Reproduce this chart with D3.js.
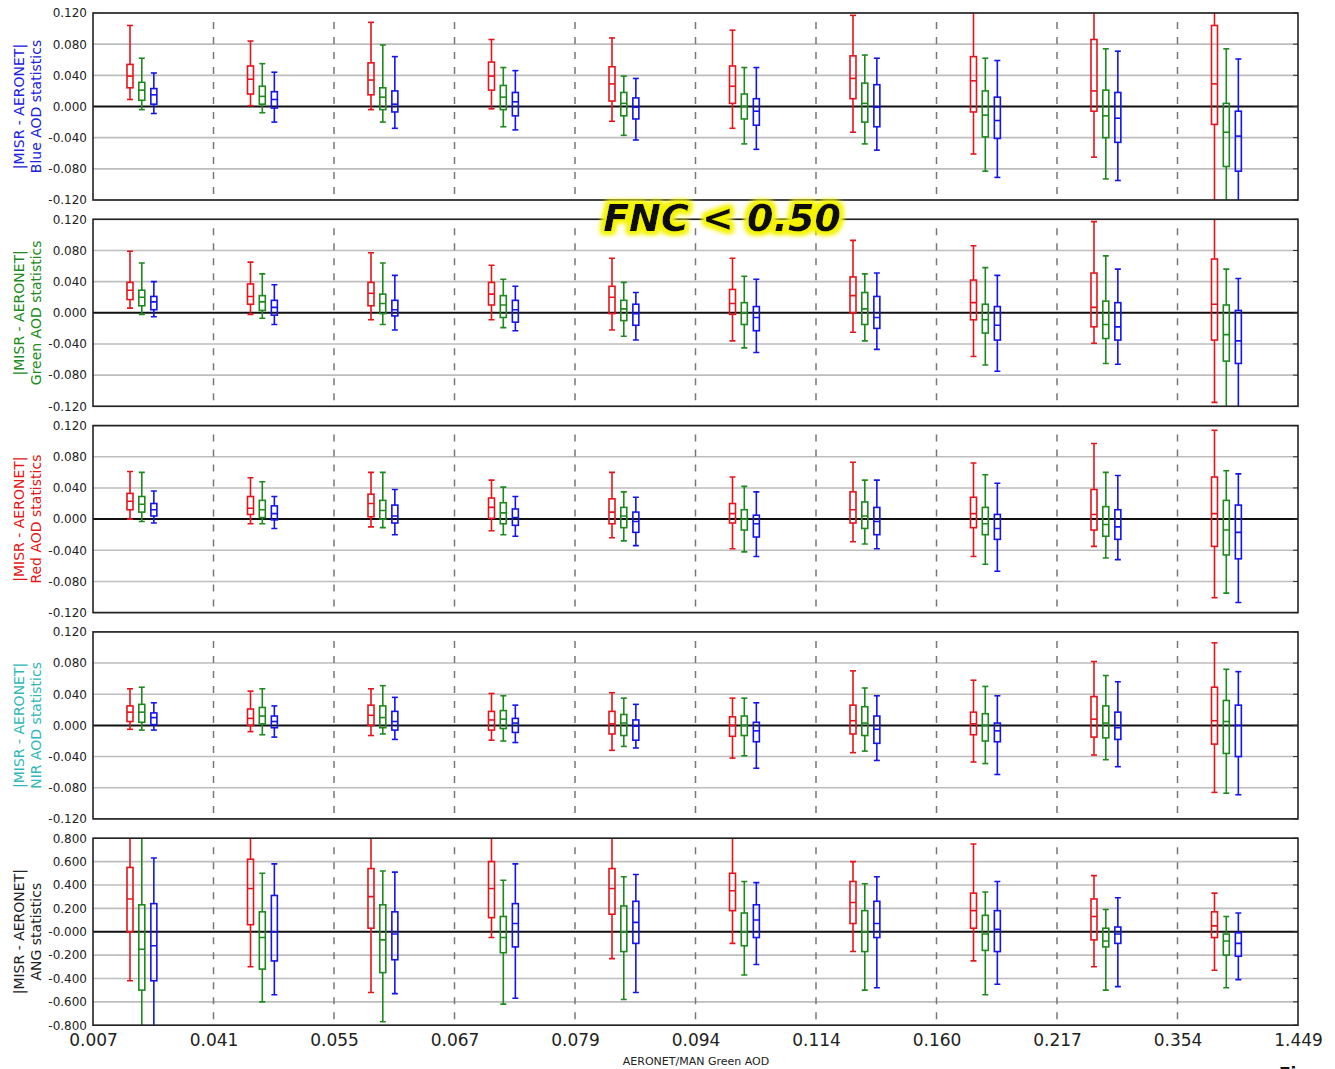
<!DOCTYPE html>
<html>
<head>
<meta charset="utf-8">
<script src="https://cdn.jsdelivr.net/npm/d3@7"></script>
<style>
  body { margin: 0; background: #fff; }
  text { font-family: "DejaVu Sans", sans-serif; }
</style>
</head>
<body>
<svg id="chart" width="1335" height="1069"></svg>
<script>
// x bins (AERONET/MAN green AOD bin edges)
const xTickLabels = ["0.007","0.041","0.055","0.067","0.079","0.094","0.114","0.160","0.217","0.354","1.449"];

// each box: [lowWhisker, q1, median, q3, highWhisker]
// Blue AOD panel
const blueR = [[0.009,0.024,0.039,0.054,0.104],[0.001,0.016,0.035,0.052,0.084],[-0.004,0.015,0.034,0.056,0.108],[-0.003,0.021,0.039,0.057,0.086],[-0.019,0.007,0.029,0.051,0.088],[-0.028,0.004,0.026,0.052,0.098],[-0.033,0.010,0.036,0.065,0.117],[-0.061,-0.007,0.033,0.064,0.150],[-0.065,-0.006,0.020,0.086,0.150],[-0.150,-0.023,0.029,0.104,0.150]];
const blueG = [[-0.004,0.008,0.021,0.031,0.062],[-0.008,0.003,0.013,0.026,0.055],[-0.020,-0.004,0.012,0.024,0.079],[-0.026,-0.004,0.012,0.027,0.050],[-0.037,-0.012,0.004,0.018,0.039],[-0.048,-0.016,0.000,0.016,0.050],[-0.048,-0.020,0.004,0.030,0.066],[-0.083,-0.039,-0.011,0.020,0.062],[-0.093,-0.040,-0.012,0.021,0.074],[-0.150,-0.077,-0.033,0.004,0.074]];
const blueB = [[-0.009,0.003,0.015,0.023,0.043],[-0.020,-0.002,0.009,0.019,0.044],[-0.028,-0.007,0.003,0.020,0.064],[-0.030,-0.012,0.006,0.018,0.046],[-0.043,-0.016,-0.001,0.011,0.036],[-0.055,-0.024,-0.006,0.010,0.050],[-0.056,-0.026,-0.001,0.028,0.062],[-0.091,-0.041,-0.018,0.012,0.059],[-0.095,-0.046,-0.015,0.018,0.071],[-0.150,-0.083,-0.038,-0.006,0.061]];
// Green AOD panel
const greenR = [[0.006,0.017,0.029,0.039,0.079],[-0.002,0.011,0.021,0.037,0.065],[-0.009,0.009,0.025,0.039,0.077],[-0.009,0.010,0.024,0.039,0.061],[-0.022,-0.001,0.020,0.034,0.070],[-0.036,-0.002,0.012,0.030,0.070],[-0.025,0.000,0.022,0.046,0.093],[-0.056,-0.009,0.013,0.042,0.086],[-0.039,-0.018,0.007,0.051,0.117],[-0.115,-0.035,0.011,0.069,0.150]];
const greenG = [[-0.002,0.009,0.020,0.029,0.064],[-0.007,0.003,0.014,0.022,0.050],[-0.015,-0.001,0.012,0.024,0.064],[-0.019,-0.006,0.010,0.022,0.043],[-0.030,-0.010,0.005,0.016,0.039],[-0.045,-0.015,0.000,0.013,0.047],[-0.036,-0.015,0.005,0.026,0.050],[-0.067,-0.026,-0.009,0.011,0.058],[-0.065,-0.033,-0.015,0.015,0.073],[-0.150,-0.062,-0.028,0.010,0.056]];
const greenB = [[-0.005,0.004,0.014,0.021,0.040],[-0.015,-0.003,0.007,0.016,0.036],[-0.022,-0.004,0.004,0.016,0.048],[-0.023,-0.012,0.004,0.016,0.034],[-0.035,-0.016,-0.001,0.011,0.026],[-0.051,-0.023,-0.006,0.008,0.043],[-0.047,-0.020,-0.006,0.021,0.051],[-0.075,-0.035,-0.016,0.008,0.048],[-0.066,-0.035,-0.018,0.013,0.056],[-0.150,-0.065,-0.036,0.003,0.044]];
// Red AOD panel
const redR = [[0.000,0.012,0.023,0.033,0.061],[-0.006,0.006,0.014,0.029,0.053],[-0.010,0.003,0.020,0.032,0.060],[-0.015,0.001,0.015,0.027,0.050],[-0.024,-0.006,0.009,0.026,0.060],[-0.038,-0.005,0.007,0.020,0.054],[-0.029,-0.005,0.012,0.035,0.073],[-0.048,-0.011,0.007,0.028,0.072],[-0.035,-0.014,0.006,0.038,0.097],[-0.101,-0.035,0.007,0.054,0.114]];
const redG = [[-0.003,0.009,0.019,0.029,0.060],[-0.006,0.002,0.012,0.024,0.048],[-0.011,0.000,0.011,0.024,0.060],[-0.020,-0.006,0.008,0.021,0.041],[-0.028,-0.011,0.004,0.015,0.035],[-0.042,-0.014,0.000,0.012,0.042],[-0.032,-0.012,0.004,0.022,0.050],[-0.058,-0.020,-0.006,0.015,0.057],[-0.050,-0.022,-0.007,0.016,0.060],[-0.095,-0.046,-0.014,0.024,0.062]];
const redB = [[-0.005,0.004,0.012,0.020,0.036],[-0.012,-0.001,0.007,0.017,0.029],[-0.020,-0.005,0.004,0.018,0.038],[-0.022,-0.008,0.002,0.013,0.029],[-0.034,-0.017,-0.003,0.009,0.028],[-0.048,-0.023,-0.006,0.005,0.035],[-0.038,-0.020,-0.003,0.015,0.050],[-0.067,-0.026,-0.012,0.006,0.046],[-0.052,-0.026,-0.010,0.012,0.056],[-0.107,-0.051,-0.017,0.018,0.058]];
// NIR AOD panel
const nirR = [[-0.005,0.005,0.017,0.025,0.047],[-0.008,0.000,0.009,0.021,0.044],[-0.013,0.000,0.013,0.026,0.047],[-0.019,-0.006,0.007,0.018,0.041],[-0.032,-0.011,0.002,0.018,0.042],[-0.042,-0.014,0.000,0.011,0.035],[-0.035,-0.011,0.006,0.026,0.070],[-0.047,-0.012,0.002,0.017,0.058],[-0.038,-0.015,0.008,0.037,0.082],[-0.086,-0.024,0.006,0.049,0.106]];
const nirG = [[-0.006,0.004,0.017,0.027,0.049],[-0.012,0.002,0.012,0.023,0.047],[-0.011,-0.003,0.010,0.025,0.051],[-0.020,-0.004,0.008,0.019,0.038],[-0.027,-0.013,0.003,0.014,0.035],[-0.039,-0.013,0.000,0.012,0.035],[-0.033,-0.013,0.003,0.024,0.048],[-0.049,-0.020,0.000,0.015,0.050],[-0.044,-0.016,0.003,0.025,0.064],[-0.087,-0.036,0.005,0.032,0.072]];
const nirB = [[-0.006,0.001,0.010,0.016,0.029],[-0.015,-0.003,0.005,0.012,0.025],[-0.018,-0.006,0.005,0.018,0.036],[-0.022,-0.009,0.003,0.009,0.026],[-0.029,-0.019,-0.001,0.007,0.027],[-0.055,-0.021,-0.007,0.004,0.029],[-0.045,-0.023,-0.005,0.012,0.038],[-0.063,-0.021,-0.007,0.003,0.038],[-0.053,-0.018,-0.003,0.017,0.056],[-0.089,-0.040,0.000,0.026,0.069]];
// Angstrom exponent panel
const angR = [[-0.42,0.00,0.28,0.55,0.90],[-0.30,0.06,0.37,0.62,0.90],[-0.52,0.03,0.30,0.54,0.90],[-0.05,0.12,0.37,0.60,0.90],[-0.23,0.15,0.37,0.54,0.90],[-0.10,0.18,0.35,0.50,0.90],[-0.17,0.07,0.25,0.43,0.60],[-0.25,0.03,0.18,0.33,0.75],[-0.30,-0.07,0.13,0.28,0.48],[-0.33,-0.05,0.05,0.17,0.33]];
const angG = [[-0.90,-0.50,-0.15,0.23,0.80],[-0.60,-0.32,-0.05,0.17,0.50],[-0.77,-0.35,-0.07,0.23,0.52],[-0.62,-0.18,-0.05,0.13,0.44],[-0.58,-0.17,0.00,0.22,0.47],[-0.37,-0.12,0.00,0.16,0.43],[-0.50,-0.17,0.00,0.18,0.41],[-0.54,-0.16,-0.02,0.14,0.34],[-0.50,-0.13,-0.08,0.03,0.19],[-0.48,-0.20,-0.08,-0.02,0.13]];
const angB = [[-0.90,-0.42,-0.12,0.24,0.63],[-0.54,-0.25,0.00,0.31,0.58],[-0.53,-0.24,-0.02,0.17,0.51],[-0.57,-0.13,0.07,0.24,0.58],[-0.52,-0.10,0.08,0.26,0.49],[-0.28,-0.05,0.10,0.23,0.42],[-0.48,-0.05,0.07,0.26,0.47],[-0.45,-0.17,0.02,0.18,0.43],[-0.47,-0.10,-0.02,0.04,0.29],[-0.41,-0.21,-0.10,-0.01,0.16]];

const aodTicks = [0.12, 0.08, 0.04, 0, -0.04, -0.08, -0.12];
const aodTickLabels = ["0.120","0.080","0.040","0.000","-0.040","-0.080","-0.120"];
const angTicks = [0.8, 0.6, 0.4, 0.2, 0, -0.2, -0.4, -0.6, -0.8];
const angTickLabels = ["0.800","0.600","0.400","0.200","-0.000","-0.200","-0.400","-0.600","-0.800"];

const panelTitles = [
  ["|MISR - AERONET|", "Blue AOD statistics"],
  ["|MISR - AERONET|", "Green AOD statistics"],
  ["|MISR - AERONET|", "Red AOD statistics"],
  ["|MISR - AERONET|", "NIR AOD statistics"],
  ["|MISR - AERONET|", "ANG statistics"]
];
const titleColors = ["#2020e0", "#208a20", "#e01818", "#30b8b8", "#222222"];
const seriesColors = ["#e8141c", "#1e8a1e", "#1414ee"];
const seriesOffsets = [0.307, 0.405, 0.505];

const panels = [
  {domain: [-0.12, 0.12], ticks: aodTicks, labels: aodTickLabels, series: [blueR, blueG, blueB]},
  {domain: [-0.12, 0.12], ticks: aodTicks, labels: aodTickLabels, series: [greenR, greenG, greenB]},
  {domain: [-0.12, 0.12], ticks: aodTicks, labels: aodTickLabels, series: [redR, redG, redB]},
  {domain: [-0.12, 0.12], ticks: aodTicks, labels: aodTickLabels, series: [nirR, nirG, nirB]},
  {domain: [-0.8, 0.8], ticks: angTicks, labels: angTickLabels, series: [angR, angG, angB]}
];

const svg = d3.select("#chart");
const plotLeft = 93, plotRight = 1298;
const panelH = 187, panelStep = 206.3, firstTop = 13;

const x = d3.scaleLinear().domain([0, 10]).range([plotLeft, plotRight]);

const defs = svg.append("defs");
const glow = defs.append("filter").attr("id", "glow")
  .attr("x", "-20%").attr("y", "-40%").attr("width", "140%").attr("height", "180%");
glow.append("feMorphology").attr("in", "SourceAlpha").attr("operator", "dilate").attr("radius", 3).attr("result", "fat");
glow.append("feGaussianBlur").attr("in", "fat").attr("stdDeviation", 2.5).attr("result", "blur");
glow.append("feFlood").attr("flood-color", "#f4f400").attr("result", "yel");
glow.append("feComposite").attr("in", "yel").attr("in2", "blur").attr("operator", "in").attr("result", "halo");
const merge = glow.append("feMerge");
merge.append("feMergeNode").attr("in", "halo");
merge.append("feMergeNode").attr("in", "halo");
merge.append("feMergeNode").attr("in", "SourceGraphic");

const boxW = 6;

panels.forEach(function(p, i) {
  const top = firstTop + i * panelStep;
  const y = d3.scaleLinear().domain(p.domain).range([top + panelH, top]);
  const g = svg.append("g").attr("class", "panel");

  defs.append("clipPath").attr("id", "clip" + i)
    .append("rect").attr("x", plotLeft).attr("y", top).attr("width", plotRight - plotLeft).attr("height", panelH);

  // horizontal grid
  g.selectAll(".grid").data(p.ticks).join("line")
    .attr("class", "grid")
    .attr("x1", plotLeft).attr("x2", plotRight)
    .attr("y1", d => y(d)).attr("y2", d => y(d))
    .attr("stroke", d => d === 0 ? "#111" : "#bdbdbd")
    .attr("stroke-width", d => d === 0 ? 2 : 1.6);

  // bin separators
  g.selectAll(".sep").data(d3.range(1, 10)).join("line")
    .attr("class", "sep")
    .attr("x1", d => x(d)).attr("x2", d => x(d))
    .attr("y1", top + 9).attr("y2", top + panelH)
    .attr("stroke", "#777").attr("stroke-width", 1.5)
    .attr("stroke-dasharray", "7,8");

  // boxes
  const boxes = g.append("g").attr("clip-path", "url(#clip" + i + ")");
  p.series.forEach(function(s, k) {
    const col = seriesColors[k];
    const sg = boxes.append("g").attr("stroke", col).attr("fill", "none").attr("stroke-width", 1.6);
    s.forEach(function(b, j) {
      const cx = x(j + seriesOffsets[k]);
      sg.append("line").attr("x1", cx).attr("x2", cx).attr("y1", y(b[0])).attr("y2", y(b[1]));
      sg.append("line").attr("x1", cx).attr("x2", cx).attr("y1", y(b[3])).attr("y2", y(b[4]));
      sg.append("line").attr("x1", cx - boxW / 2).attr("x2", cx + boxW / 2).attr("y1", y(b[0])).attr("y2", y(b[0]));
      sg.append("line").attr("x1", cx - boxW / 2).attr("x2", cx + boxW / 2).attr("y1", y(b[4])).attr("y2", y(b[4]));
      sg.append("rect").attr("x", cx - boxW / 2).attr("width", boxW)
        .attr("y", y(b[3])).attr("height", y(b[1]) - y(b[3]));
      sg.append("line").attr("x1", cx - boxW / 2).attr("x2", cx + boxW / 2).attr("y1", y(b[2])).attr("y2", y(b[2]));
    });
  });

  // right inward ticks
  g.selectAll(".rtick").data(p.ticks).join("line")
    .attr("x1", plotRight - 5).attr("x2", plotRight)
    .attr("y1", d => y(d)).attr("y2", d => y(d))
    .attr("stroke", "#333").attr("stroke-width", 1);

  // frame
  g.append("rect").attr("x", plotLeft).attr("y", top)
    .attr("width", plotRight - plotLeft).attr("height", panelH)
    .attr("fill", "none").attr("stroke", "#222").attr("stroke-width", 1.6);

  // y axis labels
  const yAxis = g.append("g").attr("transform", "translate(" + plotLeft + ",0)")
    .call(d3.axisLeft(y).tickValues(p.ticks).tickFormat((d, k) => p.labels[k]).tickSize(0).tickPadding(6));
  yAxis.select(".domain").remove();
  yAxis.selectAll("text").attr("font-size", 12).attr("fill", "#222").attr("font-family", "DejaVu Sans");

  // panel title
  const cy = top + panelH / 2;
  panelTitles[i].forEach(function(t, li) {
    svg.append("text")
      .attr("transform", "translate(" + (24 + li * 17) + "," + cy + ") rotate(-90)")
      .attr("text-anchor", "middle")
      .attr("font-size", 14)
      .attr("fill", titleColors[i])
      .text(t);
  });
});

// x axis on bottom panel
const bottom = firstTop + 4 * panelStep + panelH;
const xAxis = svg.append("g").attr("transform", "translate(0," + bottom + ")")
  .call(d3.axisBottom(x).tickValues(d3.range(0, 11)).tickFormat(d => xTickLabels[d]).tickSize(0).tickPadding(9));
xAxis.select(".domain").remove();
xAxis.selectAll("text").attr("font-size", 17).attr("fill", "#222").attr("font-family", "DejaVu Sans");

svg.append("text")
  .attr("x", 696).attr("y", 1065)
  .attr("text-anchor", "middle")
  .attr("font-size", 11).attr("fill", "#222")
  .text("AERONET/MAN Green AOD");

// highlighted annotation
svg.append("text")
  .attr("x", 722).attr("y", 231)
  .attr("text-anchor", "middle")
  .attr("font-family", "Liberation Sans, Arial, sans-serif")
  .attr("font-size", 38).attr("font-weight", "bold").attr("font-style", "italic")
  .attr("fill", "#111")
  .attr("filter", "url(#glow)")
  .text("FNC < 0.50");

// cut-off figure caption at page edge
svg.append("text")
  .attr("x", 1279).attr("y", 1080)
  .attr("font-size", 17).attr("font-weight", "bold").attr("fill", "#111")
  .text("Figure");
</script>
</body>
</html>
